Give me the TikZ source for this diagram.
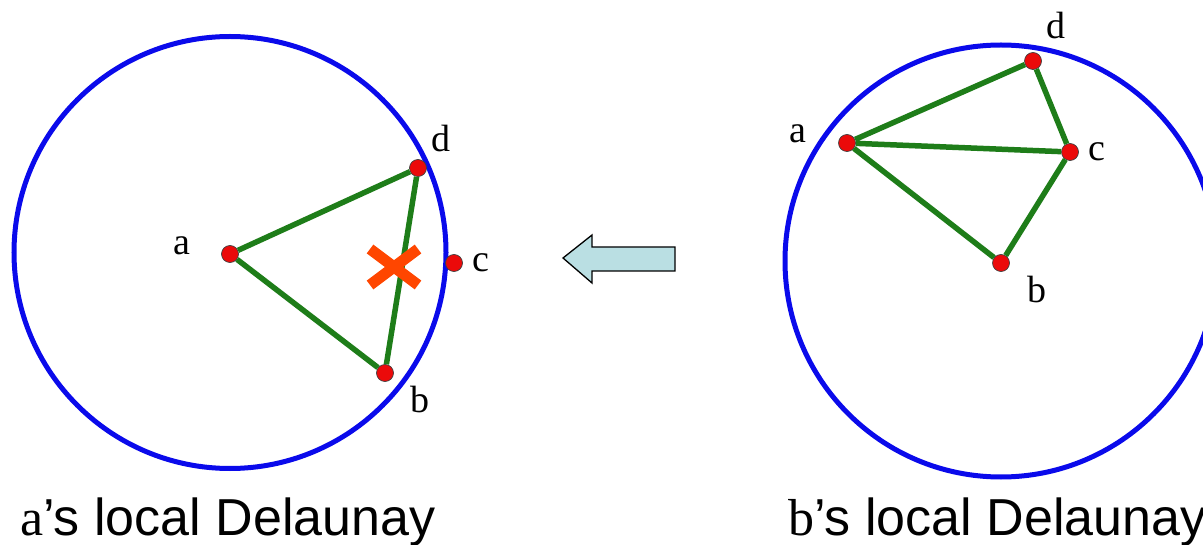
\documentclass[tikz,border=0pt]{standalone}
\usepackage{fontspec}
\setmainfont{Liberation Serif}
\newfontfamily\capfont{Liberation Sans}
\definecolor{cblue}{RGB}{10,10,235}
\definecolor{cgreen}{RGB}{30,125,25}
\definecolor{cdot}{RGB}{235,10,10}
\definecolor{ccross}{RGB}{255,70,0}
\definecolor{carrow}{RGB}{186,223,227}
\begin{document}
\begin{tikzpicture}[x=1pt,y=-1pt,
  ring/.style={draw=cblue,line width=5pt},
  ptdot/.style={circle,fill=cdot,draw=black!75,line width=0.7pt,minimum size=17pt,inner sep=0pt},
  gedge/.style={draw=cgreen,line width=5.5pt},
  lbl/.style={font=\fontsize{38}{40}\selectfont,inner sep=0pt,anchor=base},
  captxt/.style={font=\fontsize{52}{60}\selectfont,inner sep=0pt,anchor=base west}]
\useasboundingbox (0,0) rectangle (1203,545);
% left
\draw[ring] (230,252.5) circle (216);
\node[ptdot] (la) at (230,254) {};
\node[ptdot] (ld) at (418,168) {};
\node[ptdot] (lb) at (385,373) {};
\node[ptdot] (lc) at (454,263) {};
\draw[gedge] (la) -- (ld) (la) -- (lb) (lb) -- (ld);
\node[lbl] (tla) at (182,255) {a};
\node[lbl] (tld) at (441,152) {d};
\node[lbl] (tlc) at (481,272) {c};
\node[lbl] (tlb) at (420,413) {b};
\draw[ccross,line width=11pt] (370,249) -- (418,285) (418,249) -- (370,285);
% arrow
\draw[fill=carrow,line width=1.3pt,line join=miter]
  (563,258) -- (592,235) -- (592,247) -- (675,247) -- (675,271) -- (592,271) -- (592,283) -- cycle;
% right
\draw[ring] (1001,261) circle (216);
\node[ptdot] (ra) at (847,143) {};
\node[ptdot] (rd) at (1033,61) {};
\node[ptdot] (rc) at (1070,152) {};
\node[ptdot] (rb) at (1001,263) {};
\draw[gedge] (ra) -- (rd) (ra) -- (rc) (ra) -- (rb) (rd) -- (rc) (rc) -- (rb);
\node[lbl] (tra) at (798,143) {a};
\node[lbl] (trd) at (1056,39) {d};
\node[lbl] (trc) at (1097,161) {c};
\node[lbl] (trb) at (1037,303) {b};
% captions
\node[captxt] (capa) at (20,535) {a\capfont’s local Delaunay};
\node[captxt] (capb) at (788,535) {b\capfont’s local Delaunay};
\end{tikzpicture}
\end{document}
